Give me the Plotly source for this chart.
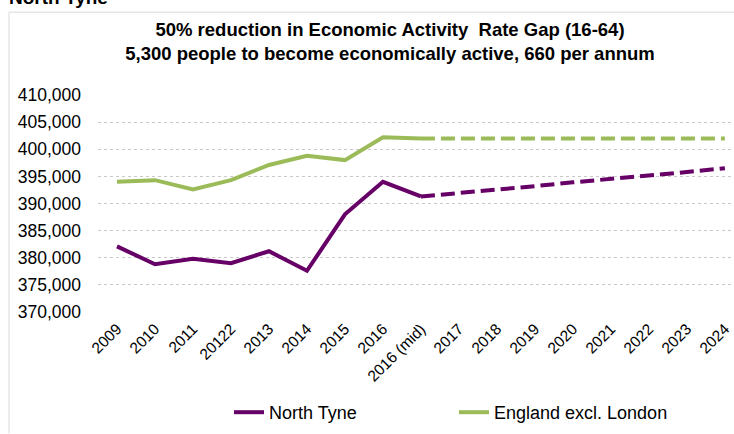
import plotly.graph_objects as go

categories = ["2009", "2010", "2011", "20122", "2013", "2014", "2015", "2016",
              "2016 (mid)", "2017", "2018", "2019", "2020", "2021", "2022", "2023", "2024"]

# Actual values (2009 .. 2016 (mid))
north_tyne_actual = [382100, 378800, 379800, 379000, 381200, 377600, 388000, 394000, 391300]
england_actual = [394000, 394300, 392600, 394300, 397100, 398800, 398000, 402200, 402000]

# Projection values (2016 (mid) .. 2024)
north_tyne_projection = [391300, 391900, 392600, 393200, 393900, 394500, 395200, 395800, 396500]
england_projection = [402000, 402000, 402000, 402000, 402000, 402000, 402000, 402000, 402000]

y_ticks = [370000, 375000, 380000, 385000, 390000, 395000, 400000, 405000, 410000]

title_line1 = "50% reduction in Economic Activity  Rate Gap (16-64)"
title_line2 = "5,300 people to become economically active, 660 per annum"

PURPLE = "#660066"
GREEN = "#9bbb59"
FONT = "Liberation Sans, Arial, sans-serif"

n_act = len(north_tyne_actual)
proj_start = len(categories) - len(north_tyne_projection)

fig = go.Figure()
fig.add_trace(go.Scatter(
    x=categories[:n_act], y=north_tyne_actual, mode="lines", name="North Tyne",
    line=dict(color=PURPLE, width=4)))
fig.add_trace(go.Scatter(
    x=categories[proj_start:], y=north_tyne_projection, mode="lines", showlegend=False,
    line=dict(color=PURPLE, width=4, dash="14px,6px")))
fig.add_trace(go.Scatter(
    x=categories[:n_act], y=england_actual, mode="lines", name="England excl. London",
    line=dict(color=GREEN, width=4)))
fig.add_trace(go.Scatter(
    x=categories[proj_start:], y=england_projection, mode="lines", showlegend=False,
    line=dict(color=GREEN, width=4, dash="14px,6px")))

L, R, T, B = 98, 0, 95, 121.5
W, H = 734, 434
pw, ph = W - L - R, H - T - B

def px_x(p):
    return (p - L) / pw

def px_y(q):
    return (H - B - q) / ph

fig.update_layout(
    width=W, height=H,
    margin=dict(l=L, r=R, t=T, b=B, autoexpand=False),
    paper_bgcolor="white", plot_bgcolor="white",
    font=dict(family=FONT, color="#000000"),
    title=dict(
        text=title_line1 + "<br>" + title_line2,
        x=390 / W, xanchor="center", xref="container",
        y=1 - 36 / H, yanchor="top", yref="container",
        font=dict(family=FONT, size=18.5, color="#000000", weight="bold"),
    ),
    showlegend=True,
    legend=dict(
        orientation="h", xref="container", yref="container",
        x=454 / W, xanchor="center", y=1 - 394 / H, yanchor="top",
        font=dict(family=FONT, size=18, color="#000000"),
        entrywidth=180, traceorder="normal",
    ),
    xaxis=dict(
        type="category", categoryorder="array", categoryarray=categories,
        range=[-0.5, 16.24], showgrid=False, showline=False, zeroline=False,
        ticks="", tickangle=-45, ticklabelstandoff=4, automargin=False,
        tickfont=dict(family=FONT, size=15.5, color="#000000"),
        fixedrange=True,
    ),
    yaxis=dict(
        range=[370000, 410000], tickvals=y_ticks, tickformat=",d",
        showgrid=True, gridcolor="#c8c8c8", griddash="dot", gridwidth=1,
        showline=False, zeroline=False, ticks="", ticklabelstandoff=16,
        automargin=False,
        tickfont=dict(family=FONT, size=17.5, color="#000000"),
        fixedrange=True,
    ),
    shapes=[
        dict(type="path", xref="paper", yref="paper",
             path=f"M {px_x(9)} {px_y(434)} L {px_x(9)} {px_y(12)} L {px_x(734)} {px_y(12)}",
             line=dict(color="#d9d9d9", width=1), layer="below"),
    ],
    annotations=[
        dict(text="<b>North Tyne</b>", xref="paper", yref="paper",
             x=px_x(7), y=px_y(10), xanchor="left", yanchor="bottom",
             showarrow=False, font=dict(family=FONT, size=19, color="#000000")),
    ],
)

fig.write_html(
    "out.html",
    config={"displayModeBar": False},
    post_script="document.body.style.margin='0';document.body.style.overflow='hidden';",
)
